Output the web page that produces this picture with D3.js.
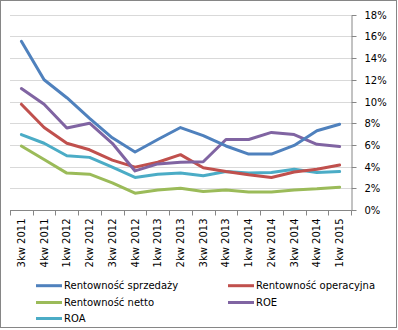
<!DOCTYPE html>
<html><head><meta charset="utf-8">
<script src="https://cdn.jsdelivr.net/npm/d3@7/dist/d3.min.js"></script>
<style>body{margin:0;background:#fff}svg{display:block}text{font-family:"DejaVu Sans",sans-serif;font-size:10px;fill:#000}</style>
</head><body><svg id="c" width="398" height="330"></svg>
<script>
const categories = ["3kw 2011","4kw 2011","1kw 2012","2kw 2012","3kw 2012","4kw 2012","1kw 2013","2kw 2013","3kw 2013","4kw 2013","1kw 2014","2kw 2014","3kw 2014","4kw 2014","1kw 2015"];
const sprzedazy = [15.55,12.0,10.35,8.45,6.65,5.35,6.5,7.6,6.85,5.9,5.15,5.15,5.95,7.3,7.9];
const operacyjna = [9.75,7.6,6.15,5.55,4.6,3.95,4.4,5.1,3.9,3.55,3.25,3.0,3.5,3.75,4.15];
const netto = [5.9,4.65,3.4,3.3,2.5,1.55,1.85,2.0,1.7,1.85,1.65,1.65,1.85,1.95,2.1];
const roe = [11.2,9.75,7.55,8.0,6.15,3.6,4.25,4.4,4.45,6.5,6.5,7.15,6.95,6.05,5.85];
const roa = [6.95,6.15,5.0,4.85,3.95,3.0,3.3,3.4,3.15,3.55,3.4,3.45,3.75,3.45,3.55];
const yTicks = [0,2,4,6,8,10,12,14,16,18];
const seriesNames = ["Rentowność sprzedaży","Rentowność operacyjna","Rentowność netto","ROE","ROA"];
const seriesData = [sprzedazy, operacyjna, netto, roe, roa];
const colors = ["#4F81BD","#C0504D","#9BBB59","#8064A2","#4BACC6"];

const svg = d3.select("#c");
svg.append("rect").attr("x",0.5).attr("y",0.5).attr("width",396).attr("height",327).attr("fill","#fff").attr("stroke","#868686");

const x = d3.scaleBand().domain(categories).range([10,351]);
const y = d3.scaleLinear().domain([0,18]).range([210,14.7]);

// gridlines
svg.append("g").selectAll("line").data(yTicks.filter(d=>d>0)).join("line")
  .attr("x1",10).attr("x2",351).attr("y1",d=>Math.round(y(d))+0.5).attr("y2",d=>Math.round(y(d))+0.5)
  .attr("stroke","#D9D9D9");

// right axis
const ya = svg.append("g").attr("transform","translate(351.5,0.5)")
  .call(d3.axisRight(y).tickValues(yTicks).tickFormat(d=>d+"%").tickSize(5).tickPadding(8).tickSizeOuter(0));
ya.select(".domain").attr("stroke","#868686");
ya.selectAll(".tick line").attr("stroke","#868686");
ya.selectAll(".tick").attr("transform",d=>`translate(0,${Math.round(y(d))})`);
ya.selectAll("text").attr("font-family","DejaVu Sans").attr("font-size",10).attr("fill","#000");

// x axis baseline
const xa = svg.append("g").attr("transform","translate(0,210.5)");
xa.append("line").attr("x1",10).attr("x2",351.5).attr("stroke","#868686");
const bounds = categories.map(c=>x(c)).concat([x.range()[1]]);
xa.selectAll("line.t").data(bounds).join("line").attr("class","t")
  .attr("x1",d=>Math.round(d)+0.5).attr("x2",d=>Math.round(d)+0.5).attr("y1",0).attr("y2",5).attr("stroke","#868686");
xa.selectAll("text").data(categories).join("text")
  .attr("transform",d=>`translate(${x(d)+x.bandwidth()/2+3.5},8) rotate(-90)`)
  .attr("text-anchor","end").text(d=>d);

// lines
const line = d3.line().x((d,i)=>x(categories[i])+x.bandwidth()/2).y(d=>y(d));
const order = [4,2,1,3,0];
svg.append("g").selectAll("path").data(order).join("path")
  .attr("d",k=>line(seriesData[k])).attr("fill","none").attr("stroke",k=>colors[k])
  .attr("stroke-width",3).attr("stroke-linejoin","round").attr("stroke-linecap","round");

// legend
const lpos = [[36,285.7],[228,285.7],[36,302.5],[228,302.5],[36,318.5]];
const lg = svg.append("g").selectAll("g").data(seriesNames).join("g")
  .attr("transform",(d,i)=>`translate(${lpos[i][0]},${lpos[i][1]})`);
lg.append("line").attr("x1",0).attr("x2",26).attr("stroke",(d,i)=>colors[i]).attr("stroke-width",3);
lg.append("text").attr("x",28).attr("dy","0.35em").text(d=>d);
</script></body></html>
